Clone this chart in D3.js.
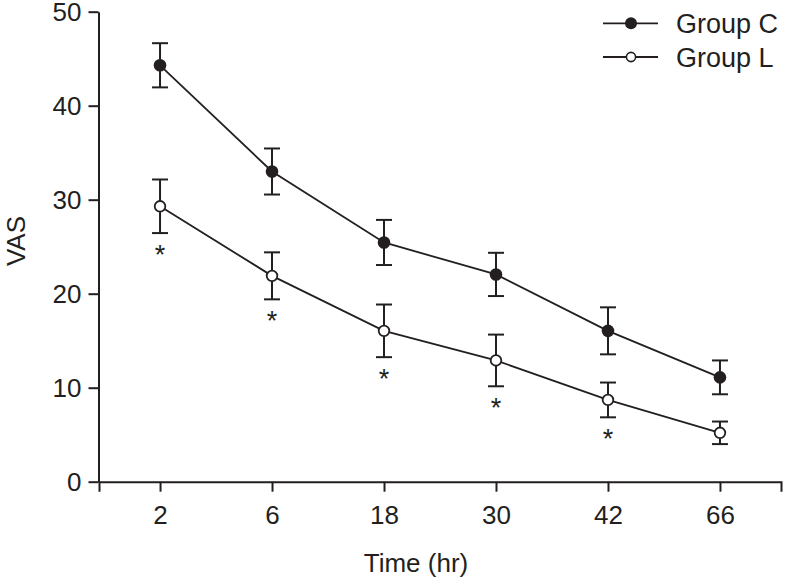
<!DOCTYPE html>
<html>
<head>
<meta charset="utf-8">
<script src="https://cdn.jsdelivr.net/npm/d3@7"></script>
<style>
  html, body { margin: 0; padding: 0; background: #fff; }
  svg { display: block; }
  text { font-family: "Liberation Sans", Arial, Helvetica, sans-serif; fill: #231f20; }
</style>
</head>
<body>
<svg id="chart" width="785" height="581"></svg>
<script>
// ---- data ----
const categories = ["2", "6", "18", "30", "42", "66"];
const groupCMean = [44.3, 33.0, 25.45, 22.05, 16.05, 11.1];
const groupCErr  = [2.35, 2.45, 2.4, 2.3, 2.5, 1.8];
const groupLMean = [29.3, 21.9, 16.05, 12.9, 8.7, 5.2];
const groupLErr  = [2.85, 2.5, 2.8, 2.75, 1.85, 1.2];
const significant = [true, true, true, true, true, false];
const yTicks = [0, 10, 20, 30, 40, 50];
const seriesNames = ["Group C", "Group L"];

const ink = "#231f20";
const svg = d3.select("#chart");

const x = d3.scalePoint().domain(categories).range([99, 781]).padding(0.545);
const y = d3.scaleLinear().domain([0, 50]).range([481.7, 11.7]);

// axes
const xAxis = svg.append("g")
  .attr("transform", `translate(0,${y(0)})`)
  .call(d3.axisBottom(x).tickSize(10).tickSizeOuter(10).tickPadding(14));
const yAxis = svg.append("g")
  .attr("transform", `translate(98.5,0)`)
  .call(d3.axisLeft(y).tickValues(yTicks).tickSize(10).tickSizeOuter(0).tickPadding(7));

[xAxis, yAxis].forEach(g => {
  g.selectAll("path, line").attr("stroke", ink).attr("stroke-width", 2);
  g.selectAll("text").attr("font-size", 26).attr("fill", ink)
    .attr("font-family", '"Liberation Sans", Arial, sans-serif');
});

// axis titles
svg.append("text").attr("x", 416).attr("y", 572).attr("text-anchor", "middle")
  .attr("font-size", 26).text("Time (hr)");
svg.append("text").attr("transform", "translate(25,241) rotate(-90)")
  .attr("text-anchor", "middle").attr("font-size", 26).text("VAS");

const series = [
  { name: seriesNames[0], mean: groupCMean, err: groupCErr, filled: true },
  { name: seriesNames[1], mean: groupLMean, err: groupLErr, filled: false }
];

const line = d3.line().x((d, i) => x(categories[i])).y(d => y(d));

series.forEach(s => {
  const g = svg.append("g");
  g.append("path").datum(s.mean).attr("d", line)
    .attr("fill", "none").attr("stroke", ink).attr("stroke-width", 1.8);
  // error bars
  s.mean.forEach((m, i) => {
    const cx = x(categories[i]);
    const e = s.err[i];
    g.append("line").attr("x1", cx).attr("x2", cx).attr("y1", y(m + e)).attr("y2", y(m - e))
      .attr("stroke", ink).attr("stroke-width", 2);
    [m + e, m - e].forEach(v => {
      g.append("line").attr("x1", cx - 8).attr("x2", cx + 8).attr("y1", y(v)).attr("y2", y(v))
        .attr("stroke", ink).attr("stroke-width", 2);
    });
  });
  g.selectAll("circle").data(s.mean).join("circle")
    .attr("cx", (d, i) => x(categories[i])).attr("cy", d => y(d))
    .attr("r", s.filled ? 6.3 : 5.3)
    .attr("fill", s.filled ? ink : "#fff")
    .attr("stroke", ink).attr("stroke-width", s.filled ? 0 : 1.8);
});

// significance stars
groupLMean.forEach((m, i) => {
  if (!significant[i]) return;
  svg.append("text").attr("x", x(categories[i])).attr("y", y(m - groupLErr[i]) + 31)
    .attr("text-anchor", "middle").attr("font-size", 27).text("*");
});

// legend
const legend = svg.append("g");
series.forEach((s, i) => {
  const ly = 23.3 + i * 33.7;
  legend.append("line").attr("x1", 603).attr("x2", 658).attr("y1", ly).attr("y2", ly)
    .attr("stroke", ink).attr("stroke-width", 1.8);
  legend.append("circle").attr("cx", 631).attr("cy", ly)
    .attr("r", s.filled ? 6 : 4.6)
    .attr("fill", s.filled ? ink : "#fff")
    .attr("stroke", ink).attr("stroke-width", s.filled ? 0 : 1.6);
  legend.append("text").attr("x", 676).attr("y", ly + 9.5)
    .attr("font-size", 27).text(s.name);
});
</script>
</body>
</html>
